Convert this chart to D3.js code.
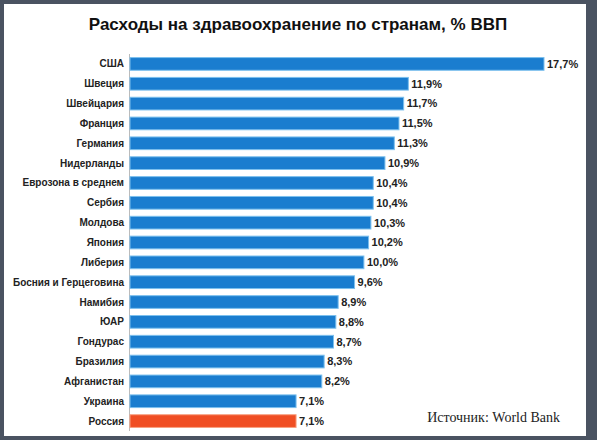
<!DOCTYPE html>
<html>
<head>
<meta charset="utf-8">
<script src="https://cdn.jsdelivr.net/npm/d3@7"></script>
<style>
  body { margin: 0; background: #4a5361; }
  #chart { position: absolute; left: 0; top: 0; }
</style>
</head>
<body>
<div id="chart"></div>
<script>
var countries = ['США', 'Швеция', 'Швейцария', 'Франция', 'Германия', 'Нидерланды',
  'Еврозона в среднем', 'Сербия', 'Молдова', 'Япония', 'Либерия', 'Босния и Герцеговина',
  'Намибия', 'ЮАР', 'Гондурас', 'Бразилия', 'Афганистан', 'Украина', 'Россия'];
var values = [17.7, 11.9, 11.7, 11.5, 11.3, 10.9, 10.4, 10.4, 10.3, 10.2, 10.0, 9.6,
  8.9, 8.8, 8.7, 8.3, 8.2, 7.1, 7.1];
var highlight = 'Россия';

var W = 597, H = 440,
  left = 130;

var svg = d3.select('#chart').append('svg')
  .attr('width', W).attr('height', H);

// рамка
svg.append('rect').attr('x', 0).attr('y', 0).attr('width', W).attr('height', H).attr('fill', '#4a5361');
svg.append('rect').attr('x', 4).attr('y', 4).attr('width', 582).attr('height', 432).attr('fill', '#fff');

svg.append('text')
  .attr('x', 298).attr('y', 30)
  .attr('text-anchor', 'middle')
  .attr('font-family', 'Liberation Sans, Arial, sans-serif')
  .attr('font-size', 17).attr('font-weight', 'bold')
  .attr('fill', '#111')
  .text('Расходы на здравоохранение по странам, % ВВП');

var x = d3.scaleLinear().domain([0, 17.7]).range([left, 544]);
var y = d3.scaleBand().domain(countries).range([54, 431]).paddingInner(0.36).paddingOuter(0.18);

svg.append('line')
  .attr('x1', left - 0.5).attr('x2', left - 0.5)
  .attr('y1', 54).attr('y2', 431)
  .attr('stroke', '#bbb');

var rows = svg.selectAll('.row').data(countries).enter().append('g');

rows.append('rect')
  .attr('x', left)
  .attr('y', function (d) { return y(d); })
  .attr('width', function (d, i) { return x(values[i]) - left; })
  .attr('height', y.bandwidth())
  .attr('fill', function (d) { return d === highlight ? '#f04e23' : '#1a7dcf'; })
  .attr('stroke', function (d) { return d === highlight ? '#f8a080' : '#7cc0ee'; })
  .attr('stroke-width', 1);

rows.append('text')
  .attr('x', left - 6)
  .attr('y', function (d) { return y(d) + y.bandwidth() / 2; })
  .attr('dy', '0.35em')
  .attr('text-anchor', 'end')
  .attr('font-family', 'Liberation Sans, Arial, sans-serif')
  .attr('font-size', 10).attr('font-weight', 'bold')
  .attr('fill', '#222')
  .text(function (d) { return d; });

rows.append('text')
  .attr('x', function (d, i) { return x(values[i]) + 3; })
  .attr('y', function (d) { return y(d) + y.bandwidth() / 2; })
  .attr('dy', '0.35em')
  .attr('font-family', 'Liberation Sans, Arial, sans-serif')
  .attr('font-size', 11).attr('font-weight', 'bold')
  .attr('fill', '#222')
  .text(function (d, i) { return values[i].toFixed(1).replace('.', ',') + '%'; });

svg.append('text')
  .attr('x', 560).attr('y', 422)
  .attr('text-anchor', 'end')
  .attr('font-family', 'Liberation Serif, Times New Roman, serif')
  .attr('font-size', 14)
  .attr('fill', '#222')
  .text('Источник: World Bank');
</script>
</body>
</html>
